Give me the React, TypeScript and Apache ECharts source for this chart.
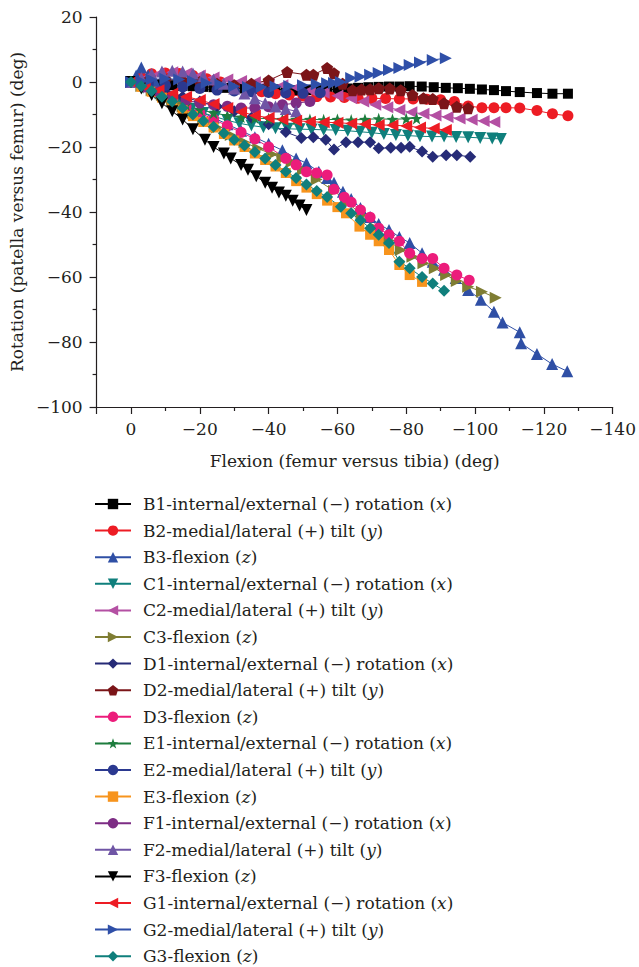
import React, { useEffect, useRef } from "react";
import * as echarts from "echarts";

const FONT = '"DejaVu Serif", "Liberation Serif", serif';
const TXT = "#231f20";
const FS = 17;

// ---- tick / axis data
const xTicks = { min: -140, max: 10, interval: 20 };
const yTicks = { min: -100, max: 20, interval: 20 };

// ---- series values: [flexion, rotation]
const B1 = [[0,0],[-3,-0.3],[-6,-0.6],[-9,-0.8],[-12,-1],[-15,-1.2],[-18,-1.3],[-21,-1.5],[-24,-1.6],[-27,-1.8],[-30,-1.9],[-33,-2],[-36,-2.1],[-39,-2.2],[-42,-2.3],[-45,-2.4],[-48,-2.5],[-51,-2.5],[-54,-2.5],[-57,-2.4],[-60,-2.2],[-63,-2],[-66,-1.8],[-69,-1.6],[-72,-1.5],[-75,-1.4],[-78,-1.4],[-81,-1.3],[-84.5,-1.4],[-88,-1.6],[-91.5,-1.8],[-95,-1.9],[-98.5,-2.1],[-102,-2.3],[-105.5,-2.5],[-109,-2.8],[-113,-3.1],[-118,-3.4],[-122.5,-3.6],[-127,-3.6]];
const B2 = [[0,0],[-3,1.5],[-6,2.5],[-10,2.8],[-14,2.6],[-18,2],[-22,1],[-26,0],[-30,-1.2],[-34,-2.2],[-38,-3],[-42,-3.6],[-46,-4],[-50,-4.3],[-54,-4.5],[-58,-4.6],[-62,-4.8],[-66,-5],[-70,-5],[-74,-5.1],[-78,-5.2],[-82,-5.2],[-86,-5.3],[-90,-5.5],[-94,-6],[-98,-7.4],[-102,-7.9],[-105.5,-7.9],[-109,-7.9],[-113,-8],[-118,-8.8],[-122.5,-9.8],[-127,-10.4]];
const B3 = [[0,0],[-1.5,2],[-3,4.5],[-5,2],[-7,0],[-10,-2.5],[-13,-4.5],[-16,-6.5],[-20,-9],[-24,-11],[-28,-13],[-32,-15],[-36,-17],[-40,-19],[-44,-21],[-48,-23.5],[-51,-25],[-54.6,-27.6],[-57,-29.5],[-59,-31],[-61.6,-33.8],[-64,-36],[-66.7,-38.8],[-69.5,-41.5],[-72,-43.7],[-75,-45.5],[-78,-47.7],[-81,-49.5],[-84.6,-52.7],[-87.7,-55.3],[-91,-57.8],[-94.4,-60.3],[-98,-64],[-101.7,-67],[-105.5,-70.7],[-108,-74],[-113,-77],[-113.4,-80.4],[-118,-83.7],[-122.4,-86.8],[-126.8,-89]];
const C1 = [[0,0],[-3.5,-1.8],[-7,-3.5],[-10.5,-5.2],[-14,-6.8],[-17.5,-8.2],[-21,-9.5],[-24.5,-10.7],[-28,-11.8],[-31.5,-12.7],[-35,-13.4],[-38.5,-13.9],[-42,-14.2],[-45.5,-14.4],[-49,-14.5],[-52.5,-14.6],[-56,-14.7],[-59.5,-14.8],[-63,-15],[-66.5,-15.3],[-70,-15.6],[-73.5,-16],[-77,-16.3],[-80.5,-16.5],[-84,-16.7],[-87.5,-16.8],[-91,-16.8],[-94.5,-16.9],[-98,-17],[-101.5,-17.2],[-105,-17.4],[-107.5,-17.5]];
const C2 = [[0,0],[-4,1],[-8,2.5],[-12,3],[-16,2.6],[-20,2],[-24,1.4],[-28,0.8],[-32,0.3],[-36,-0.1],[-40,-0.5],[-44,-1],[-48,-1.7],[-52,-2.5],[-56,-3.3],[-60,-4.2],[-64,-5],[-67.5,-6],[-71,-7],[-74.5,-7.8],[-78,-8.6],[-81.5,-9.3],[-85,-9.8],[-88.5,-10.3],[-92,-10.8],[-95.5,-11.2],[-99,-11.6],[-102.5,-12],[-105.6,-12.3]];
const C3 = [[0,0],[-3,-1.2],[-6,-2.5],[-9,-4],[-12,-5.5],[-15,-7.5],[-18,-9.5],[-21,-11.5],[-25,-14],[-29,-16.3],[-33,-18.5],[-37,-20.5],[-41,-22.2],[-44,-23.5],[-46.7,-24.6],[-50,-27],[-54,-30],[-59,-33.5],[-63,-37],[-67,-41],[-71,-45],[-75,-48.8],[-78.4,-51.7],[-81.8,-53.8],[-85,-55.8],[-88.3,-57.3],[-91.6,-59.4],[-94.7,-61.2],[-98,-63],[-102,-64.5],[-106,-66.4]];
const D1 = [[0,0],[-5,-1.5],[-10,-3],[-15,-4.5],[-20,-6],[-25,-7.5],[-30,-9],[-35,-11],[-40,-13],[-45,-15.4],[-49.5,-17.2],[-53,-17],[-56.6,-17.8],[-59,-20.8],[-62.5,-18.5],[-66,-18.5],[-69.5,-18.5],[-72,-20.4],[-75.5,-20.2],[-78.5,-20.2],[-81,-19.9],[-84.6,-21.4],[-87.7,-23],[-91.6,-22.5],[-94.7,-22.5],[-98.6,-23]];
const D2 = [[0,0],[-5,0.5],[-10,0.8],[-15,0.5],[-20,0],[-25,-0.5],[-30,-1],[-35,-0.5],[-40,0.5],[-45.4,3.1],[-51,2.2],[-53,2.2],[-57,4.3],[-59,2.7],[-61.5,-0.5],[-64.4,-2.5],[-67,-2.3],[-69.5,-2.2],[-72,-1.9],[-75.2,-2],[-78.4,-2.5],[-81.8,-4],[-85,-5],[-87.7,-5.2],[-91,-6.5],[-94.7,-7.6],[-98,-8.1]];
const D3 = [[0,0],[-4,-1.5],[-8,-3.5],[-12,-5.5],[-16,-7.5],[-20,-9.5],[-24,-11.5],[-28,-13.5],[-32,-15.5],[-36,-17.5],[-40,-20],[-45,-23.5],[-48,-25.5],[-51,-27.6],[-54,-28],[-57,-28.6],[-59,-33],[-62,-35.5],[-64,-37],[-66.7,-39.4],[-69.5,-41.6],[-72,-45],[-75,-47],[-78,-49],[-81,-52.7],[-84.6,-54.3],[-87.7,-54.3],[-91,-57.3],[-94.7,-59.4],[-98.3,-61]];
const E1 = [[0,0],[-4,-1.5],[-8,-3.5],[-12,-5.5],[-16,-7],[-20,-8.5],[-24,-9.5],[-28,-10.3],[-32,-10.8],[-36,-11.1],[-40,-11.3],[-44,-11.5],[-48,-11.5],[-52,-11.5],[-56,-11.6],[-60,-11.5],[-64,-11.7],[-68,-11.5],[-72,-11.3],[-76,-11.5],[-80,-11.3],[-83,-11.2]];
const E2 = [[0,0],[-5,-0.5],[-10,-1],[-15,-1.5],[-20,-2],[-25,-2.5],[-30,-2.8],[-35,-3],[-40,-3.2],[-45,-3.4],[-50,-3.5],[-55,-3.3]];
const E3 = [[0,0],[-3,-1.5],[-6,-3],[-9,-4.8],[-12,-6.5],[-15,-8.5],[-18,-10.5],[-21,-12.3],[-24,-14],[-27,-16],[-30,-18],[-33,-20],[-36,-22],[-39,-24],[-42,-26],[-45,-28],[-48,-30.5],[-51,-32.5],[-54,-34.5],[-57,-36.5],[-60,-38.5],[-62.5,-40.4],[-66.4,-44.5],[-69.5,-47],[-72,-49],[-75,-51.7],[-78,-56.3],[-81,-59.4],[-84.6,-61.5]];
const F1 = [[0,0],[-4,-1.5],[-8,-3],[-12,-4.5],[-16,-5.5],[-20,-6.5],[-24,-7],[-28,-7.5],[-32,-8],[-36,-8],[-40,-7.6],[-44,-7],[-48,-6.5],[-52,-6]];
const F2 = [[0,0],[-3,1.2],[-6,2.5],[-9,3.2],[-12,3.5],[-15,3.2],[-18,2.6],[-21,1.8],[-24,0.8],[-27,-0.5],[-30,-2],[-33,-3.5],[-36,-5],[-39,-6.5],[-42,-7.5],[-45,-8.3],[-48,-9]];
const F3 = [[0,0],[-3,-2],[-6,-4],[-9,-6.5],[-12,-9],[-15,-11.5],[-18,-14.5],[-21.5,-17.8],[-24,-20],[-27,-22],[-29,-23.5],[-32,-25.5],[-34,-27],[-36.4,-29],[-39,-31],[-41,-32.5],[-43,-34],[-45,-35],[-47,-36.5],[-49,-38],[-51,-39.4]];
const G1 = [[0,0],[-4,-1.5],[-8,-2.5],[-12,-3.5],[-16,-4.5],[-20,-5.5],[-24,-6.8],[-28,-8],[-32,-9.2],[-36,-10.3],[-40,-11],[-44,-11.5],[-48,-11.9],[-52,-12.2],[-56,-12.4],[-60,-12.5],[-64,-12.8],[-68,-13],[-72,-13.2],[-76,-13.3],[-80,-13.5],[-84,-14],[-88,-14.3],[-91.5,-14.8]];
const G2 = [[0,0],[-3,0.3],[-6,0.8],[-10,1],[-14,0.8],[-18,0.3],[-22,-0.3],[-26,-0.8],[-30,-1.3],[-34,-1.5],[-38,-1.5],[-42,-1.4],[-46,-1.2],[-50,-1],[-54,-0.7],[-57,-0.4],[-59,-0.3],[-61,0],[-64,1.2],[-66.7,1.6],[-69.5,2.2],[-72,2.8],[-75,3.7],[-78,4.3],[-81,5.2],[-84,6],[-87.7,6.8],[-91.5,7.3]];
const G3 = [[0,0],[-3,-1.3],[-6,-2.8],[-9,-4.5],[-12,-6],[-15,-8],[-18,-10],[-21,-12],[-24,-13.8],[-27,-15.8],[-30,-17.8],[-33,-19.5],[-36,-21.5],[-39,-23.5],[-42,-25.5],[-45,-27.5],[-48,-29.5],[-51,-31.5],[-54,-33.5],[-57,-35.4],[-61,-38.4],[-64,-40.4],[-66.7,-42.5],[-69.5,-45],[-72,-47],[-75,-49.5],[-78,-55.3],[-81,-57.3],[-84.6,-60],[-87.7,-62],[-91,-64.2]];

// ---- names
const names = [
  "B1-internal/external (\u2212) rotation (x)",
  "B2-medial/lateral (+) tilt (y)",
  "B3-flexion (z)",
  "C1-internal/external (\u2212) rotation (x)",
  "C2-medial/lateral (+) tilt (y)",
  "C3-flexion (z)",
  "D1-internal/external (\u2212) rotation (x)",
  "D2-medial/lateral (+) tilt (y)",
  "D3-flexion (z)",
  "E1-internal/external (\u2212) rotation (x)",
  "E2-medial/lateral (+) tilt (y)",
  "E3-flexion (z)",
  "F1-internal/external (\u2212) rotation (x)",
  "F2-medial/lateral (+) tilt (y)",
  "F3-flexion (z)",
  "G1-internal/external (\u2212) rotation (x)",
  "G2-medial/lateral (+) tilt (y)",
  "G3-flexion (z)",
];

const DOWN = "path://M-10,-8.66 L10,-8.66 L0,8.66 Z";
const LEFT = "path://M8.66,-10 L8.66,10 L-8.66,0 Z";
const RIGHT = "path://M-8.66,-10 L-8.66,10 L8.66,0 Z";
const PENTA = "path://M0,-10 L9.51,-3.09 L5.88,8.09 L-5.88,8.09 L-9.51,-3.09 Z";
const STAR = "path://M0,-10 L2.35,-3.24 L9.51,-3.09 L3.8,1.24 L5.88,8.09 L0,4 L-5.88,8.09 L-3.8,1.24 L-9.51,-3.09 L-2.35,-3.24 Z";

const styles: [number[][], string, string, number][] = [
  [B1, "#000000", "rect", 10],
  [B2, "#ed1c24", "circle", 11],
  [B3, "#2f4fa5", "triangle", 12],
  [C1, "#0f7f7c", DOWN, 12],
  [C2, "#b450a3", LEFT, 12],
  [C3, "#7f7d33", RIGHT, 12],
  [D1, "#262b77", "diamond", 12],
  [D2, "#7b1518", PENTA, 12],
  [D3, "#ec1c7b", "circle", 11],
  [E1, "#1e7d3e", STAR, 12],
  [E2, "#2b3990", "circle", 11],
  [E3, "#f7941d", "rect", 10],
  [F1, "#7d2c84", "circle", 11],
  [F2, "#6f55a5", "triangle", 12],
  [F3, "#000000", DOWN, 12],
  [G1, "#ed1c24", LEFT, 12],
  [G2, "#2f4fa8", RIGHT, 12],
  [G3, "#0f7f7c", "diamond", 12],
];

const fmtNum = (v: number) => (v < 0 ? "\u2212" + Math.abs(v) : String(v));

export default function App() {
  const ref = useRef<HTMLDivElement>(null);
  useEffect(() => {
    if (!ref.current) return;
    const chart = echarts.init(ref.current, null, { renderer: "svg" });
    const series = styles.map(([data, color, symbol, size], i) => ({
      name: names[i],
      type: "line",
      data,
      symbol,
      symbolSize: size,
      showSymbol: true,
      itemStyle: { color, borderWidth: 0 },
      lineStyle: { color, width: 1 },
      emphasis: { disabled: true },
      z: 2,
    }));
    chart.setOption({
      animation: false,
      backgroundColor: "#ffffff",
      textStyle: { fontFamily: FONT },
      grid: { left: 95, right: 10, top: 17, height: 390 },
      xAxis: {
        type: "value",
        inverse: true,
        min: xTicks.min,
        max: xTicks.max,
        interval: xTicks.interval,
        name: "Flexion (femur versus tibia) (deg)",
        nameLocation: "middle",
        nameGap: 45,
        nameTextStyle: { fontFamily: FONT, fontSize: FS, color: TXT },
        axisLine: { show: true, onZero: false, lineStyle: { color: TXT, width: 1.2 } },
        axisTick: { show: true, inside: false, length: 7, lineStyle: { color: TXT, width: 1.2 } },
        minorTick: { show: true, splitNumber: 2, length: 4, lineStyle: { color: TXT, width: 1.2 } },
        splitLine: { show: false },
        axisLabel: {
          margin: 13,
          fontFamily: FONT,
          fontSize: FS,
          color: TXT,
          formatter: (v: number) => (v > 0 ? "" : fmtNum(v)),
        },
      },
      yAxis: {
        type: "value",
        min: yTicks.min,
        max: yTicks.max,
        interval: yTicks.interval,
        name: "Rotation (patella versus femur) (deg)",
        nameLocation: "middle",
        nameGap: 64,
        nameTextStyle: { fontFamily: FONT, fontSize: FS, color: TXT },
        axisLine: { show: true, onZero: false, lineStyle: { color: TXT, width: 1.2 } },
        axisTick: { show: true, inside: false, length: 7, lineStyle: { color: TXT, width: 1.2 } },
        minorTick: { show: true, splitNumber: 2, length: 4, lineStyle: { color: TXT, width: 1.2 } },
        splitLine: { show: false },
        axisLabel: {
          margin: 14,
          fontFamily: FONT,
          fontSize: FS,
          color: TXT,
          formatter: (v: number) => fmtNum(v),
        },
      },
      legend: {
        data: names,
        orient: "vertical",
        left: 94,
        top: 494,
        height: 473,
        padding: 0,
        itemWidth: 36,
        itemHeight: 13,
        itemGap: 6.6,
        selectedMode: false,
        formatter: (name: string) => {
          const m = name.match(/^(.*\()([xyz])(\))$/);
          if (!m) return name;
          return `{n|${m[1]}}{i|${m[2]}}{n|)}`;
        },
        textStyle: {
          fontFamily: FONT,
          fontSize: FS,
          lineHeight: 20,
          color: TXT,
          padding: [0, 0, 0, 7],
          rich: {
            n: { fontFamily: FONT, fontSize: FS, lineHeight: 20, color: TXT },
            i: { fontFamily: FONT, fontSize: FS, lineHeight: 20, color: TXT, fontStyle: "italic" },
          },
        },
      },
      series,
    });
    return () => chart.dispose();
  }, []);
  return (
    <div
      ref={ref}
      style={{ position: "absolute", left: 0, top: 0, width: 639, height: 967 }}
    />
  );
}
